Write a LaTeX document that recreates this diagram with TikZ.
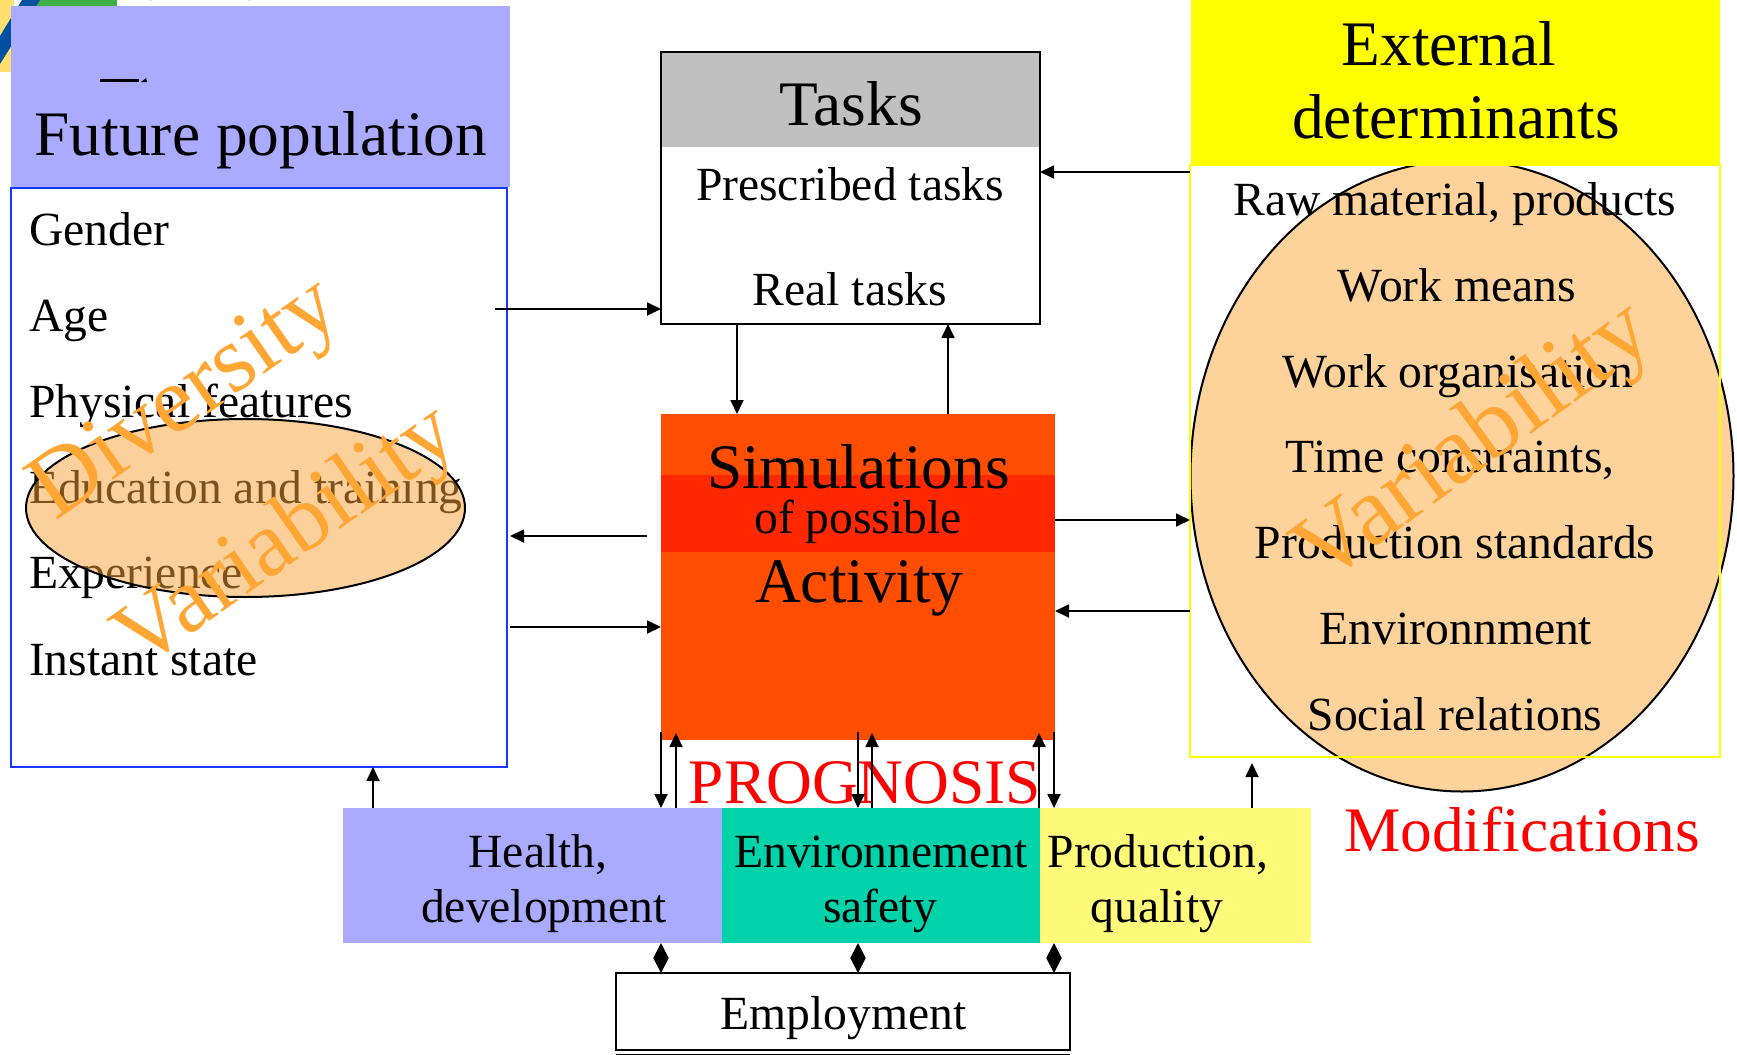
\documentclass[tikz,border=0pt]{standalone}
\usepackage{fontspec}
\setmainfont{Liberation Serif}
\usetikzlibrary{arrows.meta,shapes.geometric}

\definecolor{headblue}{RGB}{170,170,255}
\definecolor{popblue}{RGB}{25,55,255}
\definecolor{peach}{RGB}{253,210,155}
\definecolor{ellorange}{RGB}{250,163,55}
\definecolor{wmorange}{RGB}{255,166,52}
\definecolor{simorange}{RGB}{255,78,0}
\definecolor{simband}{RGB}{255,40,0}
\definecolor{envgreen}{RGB}{0,210,170}
\definecolor{prodyellow}{RGB}{255,250,122}
\definecolor{extyellow}{RGB}{255,255,0}
\definecolor{taskgrey}{RGB}{192,192,192}
\definecolor{logoyellow}{RGB}{255,224,110}
\definecolor{logoblue}{RGB}{0,80,160}
\definecolor{logogreen}{RGB}{64,176,72}
\definecolor{logosky}{RGB}{170,200,225}

\newcommand{\txtL}{\fontsize{31.7}{36}\selectfont}
\newcommand{\txtM}{\fontsize{23.8}{28}\selectfont}

\begin{document}
\begin{tikzpicture}[x=0.5pt,y=-0.5pt,
  box/.style={rectangle,inner sep=0pt,outer sep=0pt,anchor=north west},
  lbl/.style={inner sep=0pt,outer sep=0pt,anchor=base},
  lbll/.style={inner sep=0pt,outer sep=0pt,anchor=base west},
  arr/.style={line width=0.9pt,-{Triangle[length=7pt,width=6.5pt]}},
  dia/.style={line width=0.9pt,{Triangle[length=7.5pt,width=7.5pt]}-{Triangle[length=7.5pt,width=7.5pt]}},
  wm/.style={text=wmorange,inner sep=0pt,outer sep=0pt,anchor=base west}]
\useasboundingbox (0,0) rectangle (1737,1055);

% corner of the logo
\fill[logoyellow] (0,0) rectangle (14,72);
\fill[logogreen] (30,0) rectangle (117,8);
\fill[logoblue] (22,0) -- (40,0) -- (0,64) -- (0,36) -- cycle;
\draw[logosky,line width=1pt] (150,0) arc[start angle=180,end angle=360,x radius=25pt,y radius=-1.5pt];

% ---------- future population ----------
\node[box,minimum width=249.5pt,minimum height=90.5pt,fill=headblue] (popHead) at (11,6) {};
\draw[line width=1.5pt] (100,80.5) -- (139,80.5);
\fill (141,82) -- (146,78) -- (147,82) -- cycle;
\node[lbl,font=\txtL] (popTitle) at (261,155) {Future population};
\node[box,minimum width=248pt,minimum height=289.5pt,fill=white,draw=popblue,line width=1pt] (popBox) at (11,188) {};
\node[lbll,font=\txtM] (p1) at (29,245) {Gender};
\node[lbll,font=\txtM] (p2) at (29,331) {Age};
\node[lbll,font=\txtM] (p3) at (29,417) {Physical features};
\node[lbll,font=\txtM] (p4) at (29,503) {Education and training};
\node[lbll,font=\txtM] (p5) at (29,588) {Experience};
\node[lbll,font=\txtM] (p6) at (29,675) {Instant state};
\node[ellipse,inner sep=0pt,minimum width=219.5pt,minimum height=89pt,fill=ellorange,fill opacity=0.5,draw=black,line width=1pt] (leftEll) at (245.5,508) {};

% ---------- external determinants ----------
\node[box,minimum width=265pt,minimum height=296pt,fill=white] (extBox) at (1190,165) {};
\node[ellipse,inner sep=0pt,minimum width=271.5pt,minimum height=315.5pt,fill=peach,draw=black,line width=1pt] (rightEll) at (1462,476) {};
\draw[extyellow,line width=1pt] (extBox.north west) rectangle (extBox.south east);
\node[box,minimum width=264.5pt,minimum height=82.5pt,fill=extyellow] (extHead) at (1191,0) {};
\node[lbl,font=\txtL] (e1) at (1449,65) {External};
\node[lbl,font=\txtL] (e2) at (1456,138) {determinants};
\node[lbl,font=\txtM] (r1) at (1455,215) {Raw material, products};
\node[lbl,font=\txtM] (r2) at (1457,301) {Work means};
\node[lbl,font=\txtM] (r3) at (1458,387) {Work organisation};
\node[lbl,font=\txtM] (r4) at (1450,472) {Time constraints,};
\node[lbl,font=\txtM] (r5) at (1455,558) {Production standards};
\node[lbl,font=\txtM] (r6) at (1456,644) {Environnment};
\node[lbl,font=\txtM] (r7) at (1455,730) {Social relations};

% ---------- tasks ----------
\node[box,minimum width=189.5pt,minimum height=47.5pt,fill=taskgrey] (tasksHead) at (661,52) {};
\node[box,minimum width=189.5pt,minimum height=136pt,draw=black,line width=1pt] (tasks) at (661,52) {};
\node[lbl,font=\txtL] (t1) at (851,125) {Tasks};
\node[lbl,font=\txtM] (t2) at (850,200) {Prescribed tasks};
\node[lbl,font=\txtM] (t3) at (850,305) {Real tasks};

% ---------- simulation of activity ----------
\node[box,minimum width=197pt,minimum height=163pt,fill=simorange] (sim) at (661,414) {};
\node[box,minimum width=197pt,minimum height=38.5pt,fill=simband] (simBand) at (661,475) {};
\node[lbl,font=\txtL] (s1) at (858.5,488) {Simulations};
\node[lbl,font=\txtM] (s2) at (858,533) {of possible};
\node[lbl,font=\txtL] (s3) at (859,602) {Activity};

% ---------- prognosis boxes ----------
\node[box,minimum width=189.5pt,minimum height=67.5pt,fill=headblue] (health) at (343,808) {};
\node[box,minimum width=159pt,minimum height=67.5pt,fill=envgreen] (env) at (722,808) {};
\node[box,minimum width=135.5pt,minimum height=67.5pt,fill=prodyellow] (prod) at (1040,808) {};
\node[lbl,font=\txtM] (h1) at (538,867) {Health,};
\node[lbl,font=\txtM] (h2) at (544,922) {development};
\node[lbl,font=\txtM] (v1) at (881,867) {Environnement};
\node[lbl,font=\txtM] (v2) at (880,922) {safety};
\node[lbl,font=\txtM] (q1) at (1158,867) {Production,};
\node[lbl,font=\txtM] (q2) at (1157,922) {quality};

\node[box,minimum width=227pt,minimum height=38.5pt,draw=black,line width=1pt,fill=white] (emp) at (616,973) {};
\draw[line width=0.5pt] ([yshift=-2pt]emp.south west) -- ([yshift=-2pt]emp.south east);
\node[lbl,font=\txtM] (m1) at (843.5,1029) {Employment};

\node[lbl,font=\txtL,text=red] (prog) at (865,803) {PROGNOSIS};
\node[lbl,font=\txtL,text=red] (modif) at (1522,851) {Modifications};

% ---------- connectors ----------
\coordinate (cA) at (495,309);
\draw[arr] (cA) -- (cA -| tasks.west);
\coordinate (cB) at (0,172);
\draw[arr] (extBox.west |- cB) -- (tasks.east |- cB);
\coordinate (cC) at (737,0);
\coordinate (cD) at (948,0);
\draw[arr] (tasks.south -| cC) -- (sim.north -| cC);
\draw[arr] (sim.north -| cD) -- (tasks.south -| cD);
\coordinate (cE) at (647,536);
\draw[arr] (cE) -- ([xshift=1.5pt]popBox.east |- cE);
\coordinate (cF) at (0,627);
\draw[arr] ([xshift=1.5pt]popBox.east |- cF) -- (sim.west |- cF);
\coordinate (cG) at (0,520);
\coordinate (cH) at (0,611);
\draw[arr] (sim.east |- cG) -- (extBox.west |- cG);
\draw[arr] (extBox.west |- cH) -- (sim.east |- cH);

\foreach \dn/\bx in {661/health,858/env,1054/prod}{
  \coordinate (kd) at (\dn,0);
  \draw[arr] ([yshift=4pt]sim.south -| kd) -- (\bx.north -| kd);
}
\coordinate (u1) at (676,0);
\coordinate (u2) at (872,0);
\coordinate (u3) at (1039,0);
\draw[arr] (health.north -| u1) -- ([yshift=3.5pt]sim.south -| u1);
\draw[arr] (env.north -| u2) -- ([yshift=3.5pt]sim.south -| u2);
\draw[arr] (env.north -| u3) -- ([yshift=3.5pt]sim.south -| u3);

\coordinate (cI) at (373,0);
\draw[arr] (health.north -| cI) -- (popBox.south -| cI);
\coordinate (cJ) at (1252,0);
\draw[arr] (prod.north -| cJ) -- ([yshift=-3pt]extBox.south -| cJ);

\coordinate (d1) at (661,0);
\coordinate (d2) at (858,0);
\coordinate (d3) at (1054,0);
\draw[dia] (health.south -| d1) -- (emp.north -| d1);
\draw[dia] (env.south -| d2) -- (emp.north -| d2);
\draw[dia] (prod.south -| d3) -- (emp.north -| d3);

% ---------- overlaid words ----------
\node[wm,rotate=35,font=\fontsize{47.5}{52}\selectfont] (wDiv) at (55,521) {Diversity};
\node[wm,rotate=35,font=\fontsize{46.5}{52}\selectfont] (wVarL) at (140,670) {Variability};
\node[wm,rotate=36,font=\fontsize{49}{54}\selectfont] (wVarR) at (1322,586) {Variability};
\end{tikzpicture}
\end{document}
